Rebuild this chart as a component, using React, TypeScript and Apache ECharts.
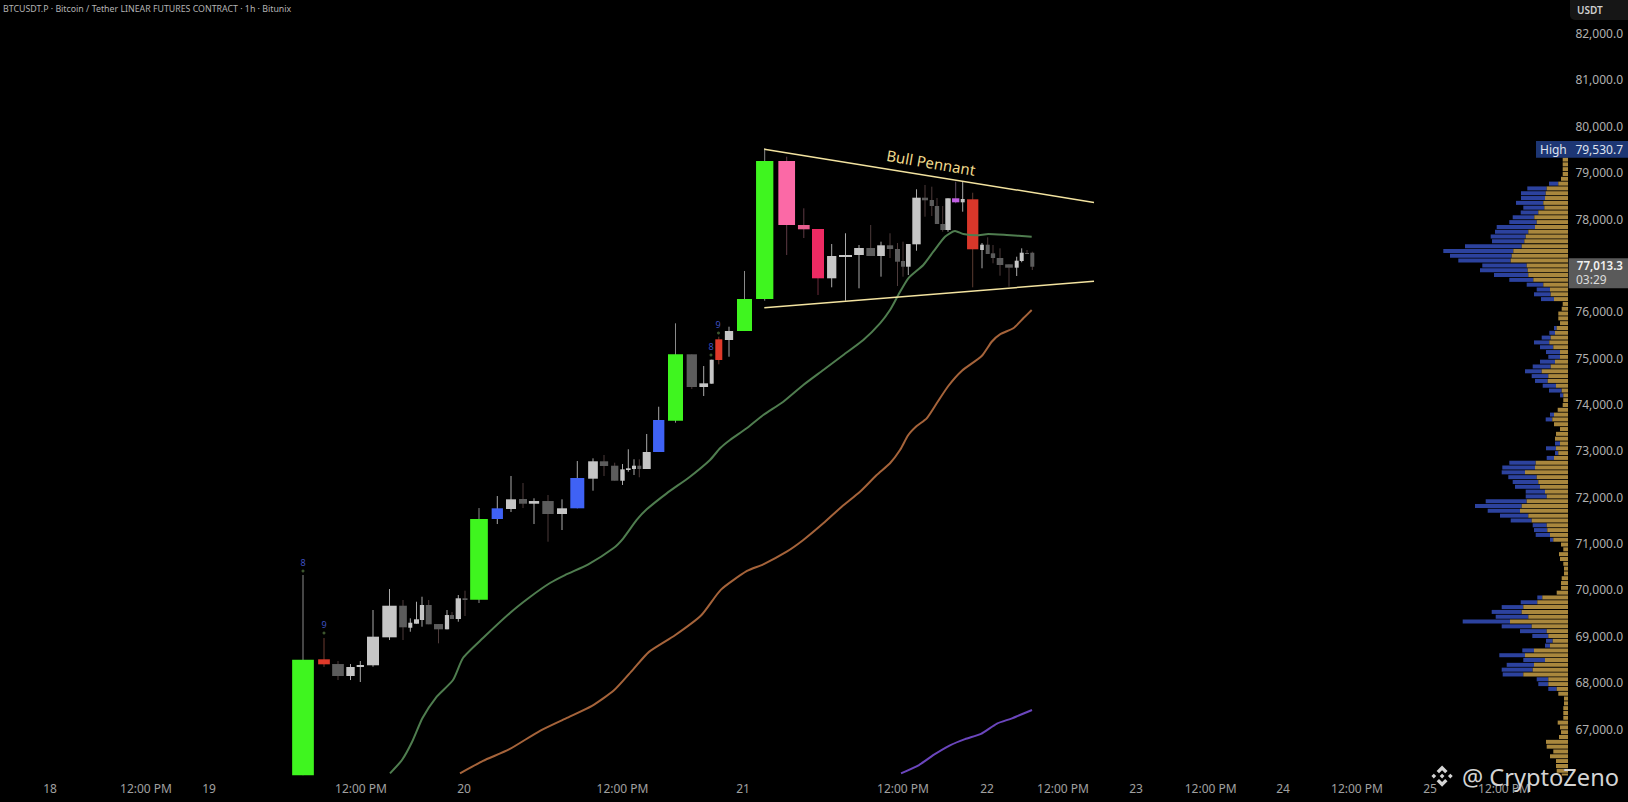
import React, { useEffect, useRef } from "react";
import * as echarts from "echarts";

// ---- Candles (one entry per 1h bar) ----
const candleSlots = [303,324,338,350.5,360.3,373,389.5,403,410.3,416.5,422,428.7,438.5,447,452,458.3,465,479,497.3,511,523,534,548,562,577.3,593,604,614.7,622.5,628.3,634,639.3,646.7,658.7,675.5,691.8,703.7,711.7,718.8,729,744.5,764.7,786.7,803.8,818,831.7,845.5,859,870.7,881,890,897.5,903,908.3,916.5,925,931.8,937,942.7,948,955.7,962.7,972.7,982,987.7,993,1000,1009,1016.7,1021.7,1027,1032.3];
const bodyTop = [68495,68504,68402,68338,68381,68992,69660,69660,69293,69367,69675,69675,69265,69459,69459,69820,69820,71530,71761,71955,71962,71918,71918,71761,72415,72775,72775,72680,72602,72624,72680,72680,72975,73666,75083,75083,74457,74966,75406,75585,76276,79252,79252,77872,77785,77203,77225,77376,77376,77434,77434,77354,77095,77462,78461,78461,78411,78282,77893,78448,78448,78433,78426,77447,77447,77261,77160,77024,77102,77274,77268,77274];
const bodyBottom = [66000,68396,68144,68144,68338,68375,68978,69194,69185,69272,69352,69259,69151,69151,69373,69373,69783,69789,71530,71746,71860,71860,71638,71638,71761,72400,72673,72356,72356,72587,72609,72609,72609,72975,73651,74377,74377,74449,74960,75391,75585,76276,77872,77779,76722,76722,77182,77225,77203,77203,77354,77080,76972,76972,77455,78405,78282,77893,77764,77764,78361,78361,77348,77332,77246,77160,77009,76951,76951,77095,77246,76972];
const wickHigh = [70322,68963,68467,68402,68467,69567,70020,69783,69388,69746,69854,69783,69265,69567,69524,69891,69984,71767,72026,72458,72307,71977,72048,71955,72781,72839,72911,72745,72717,73034,72818,72818,73364,73952,75751,75083,74830,74966,75462,75678,76880,79530,79345,78232,77785,77462,77693,77440,77872,77512,77693,77483,77512,77462,78642,78735,78698,78454,78282,78448,78806,78806,78568,77483,77606,77440,77369,77024,77188,77369,77332,77296];
const wickLow = [66000,68340,68057,68057,68014,68344,68920,68920,69099,69272,69207,69259,68849,69151,69373,69315,69438,69718,71422,71681,71767,71422,71041,71293,71761,72141,72458,72356,72264,72550,72479,72430,72609,72975,73607,74334,74183,74449,74867,75031,75585,76239,77225,77591,76362,76528,76239,76506,77203,76757,77160,76556,76757,76793,77317,78051,78066,77893,77727,77727,78340,78159,76528,76938,77246,77046,76778,76541,76772,77067,77246,76901];
const candleKinds = ["g","r","d","l","l","l","l","d","l","l","l","d","d","l","d","l","d","g","b","l","d","l","d","l","b","l","d","d","l","l","l","d","l","b","g","d","l","l","r","l","g","g","p","q","c","l","l","l","d","l","d","d","d","l","l","d","d","d","d","l","m","l","x","l","d","d","d","d","l","l","d","d"];
const candleBodyWidths = [21.7,11.7,11.7,8.4,7.3,12,14.4,7.7,4,5,4.3,6,9,4.3,4,5.3,5,17.7,11.3,10,8,10.3,11.4,10,14,9.7,8.3,7.3,4.4,4.7,4,4,8,11.3,15,10.3,8.7,4,7,8.3,15,17.3,16.7,11.7,12,9.3,13,9.7,8.7,7.7,6.3,5,4,4.7,8.4,6,4.3,4.3,4.7,5.4,7.3,4,11.3,3.7,4,4.3,6.6,7.7,4,4,4,4];

// ---- Moving averages: [slot, price] ----
const greenAvg = [[390,66044],[402,66332],[412,66720],[422.5,67238],[436,67680],[453,68057],[463,68532],[483,68963],[510,69503],[530,69848],[550,70150],[565,70322],[588.3,70552],[613.3,70898],[623.3,71114],[636.7,71509],[646.7,71739],[666.7,72084],[690,72443],[710,72803],[720,73055],[730,73234],[746.7,73487],[763.3,73773],[783.3,74060],[803.3,74421],[823.3,74744],[843.3,75068],[863.3,75391],[880,75751],[890,76038],[898.3,76362],[908.3,76722],[923.3,77009],[933.3,77296],[945,77619],[955,77742],[963.3,77678],[976.7,77650],[988.3,77678],[1006.7,77656],[1031.7,77619]];
const orangeAvg = [[460,66044],[483,66313],[509,66559],[540,66962],[566,67231],[592,67500],[614,67836],[633,68283],[649,68664],[675,69022],[701,69448],[721,70007],[747,70410],[763.3,70552],[786.7,70825],[803.3,71077],[823.3,71437],[841.7,71795],[860,72119],[876.7,72479],[890,72732],[900,73018],[908.3,73342],[916.7,73536],[926.7,73702],[936.7,74026],[948.3,74399],[961.7,74723],[981.7,75046],[991.7,75354],[1000,75514],[1013.3,75644],[1023.3,75859],[1031.7,76038]];
const purpleAvg = [[901,66044],[919,66224],[934,66447],[950,66649],[965,66783],[981,66895],[997,67119],[1012,67231],[1032,67410]];

// ---- Pennant trend lines ----
const pennantUpper = [[764.3,79505],[1094,78359]];
const pennantLower = [[764.3,76088],[1094,76657]];

// ---- Sequence-count markers: [slot, price, digit] ----
const countDigits = [[303,70587,"8"],[324,69265,"9"],[711,75246,"8"],[718,75730,"9"]];
const countDots = [[303,70408],[324,69071],[711,75067],[718.5,75542]];

// ---- Volume profile, top row first ----
const profileUp = [5.3,5.3,5.3,5.3,7,9.7,21.3,22.3,23,24.7,23.7,29.7,33.7,31.3,33,39.7,42.3,43.7,46.3,54.7,56.3,57.3,41.3,40.3,39.7,34.7,24.7,18,17.3,14,5.3,6.3,9.7,9.7,8,11.3,13,17.3,18.7,14.7,8,8,13,17.3,26.3,19.7,20.3,12,6.3,4.7,4.7,5.3,10.3,14,15.7,14,8,12,13,8,12,9.7,14,32.3,33,43,31.3,29.7,28,23,21.3,41.3,46.3,48,39.7,36.3,21.3,20.7,18,14.7,7,4.7,9,8,4.7,4,4,6.3,7,7,11.3,25.7,30.7,44.7,46.3,39.7,58,36.3,21.3,19.7,15.3,18,34,43,23,34,35.3,44.7,19.7,19.7,11.3,9.7,4,4,4.7,4.7,4.7,10.3,8,7,9,22,21.3,14.7,18,12,12,11.3,6.3];
const profileTotal = [5.3,5.3,5.3,5.3,7,19,40.7,47,47,52,44.7,47.3,55.3,58.7,71.3,73,77.3,76,103,124.7,118,109.7,85.7,88,74,58.7,41.3,31.3,34,27,5.3,6.3,9.7,9.7,8,14,18.7,26.3,34,28,22,19.7,28,35.3,43,36.3,33,25.3,19,8,4.7,5.3,10.3,18,22.3,14,8,12,13,13,22,13,21.3,58.7,65.7,66.3,59.7,55.3,53,42.3,42.3,82.3,93,80.3,68,57.3,35.3,34,32.3,18,7,4.7,9,8,4.7,4,4,6.3,7,7,11.3,30.7,47.3,66.3,76.3,72.3,105.3,66.3,48,35.7,22,23,45.7,68.7,44.7,61.3,66.3,65.3,31.3,29.7,19.7,9.7,4,4,4.7,4.7,4.7,10.3,8,7,9,22,21.3,14.7,18,12,12,11.3,6.3];
const profileTopPrice = 79275;
const profileBin = 103.8;

// ---- Axis ticks ----
const timeTickSlots = [50,146,209,361,464,622.5,743,903,987,1063,1136,1210.7,1283,1357,1430,1504];
const timeTickLabels = ["18","12:00 PM","19","12:00 PM","20","12:00 PM","21","12:00 PM","22","12:00 PM","23","12:00 PM","24","12:00 PM","25","12:00 PM"];
const priceLabelHiddenByTag = 77000;
const highLabel = "79,530.7";
const lastLabel = "77,013.3";
const countdownLabel = "03:29";
const titleText = "BTCUSDT.P · Bitcoin / Tether LINEAR FUTURES CONTRACT · 1h · Bitunix";

const bodyColor: Record<string, string> = { g: "#3ff51f", b: "#3f62f5", l: "#c6c6c6", d: "#5c5c5c", r: "#e03a2a", p: "#fb69a6", q: "#e85f90", c: "#ee2a63", m: "#c35fe6", x: "#d8372a" };
const wickColor: Record<string, string> = { g: "#8a8a8a", b: "#a8a8a8", l: "#aaaaaa", d: "#4d3b3b", r: "#6a3a30", p: "#5e3a44", q: "#5e3a44", c: "#6a2a3a", m: "#5c4a60", x: "#5a3a30" };

const FONT = '"Noto Sans", sans-serif';
const binanceMark = "M16 13.3L18.7 16L16 18.7L13.3 16ZM6.6 13.3L9.3 16L6.6 18.7L3.9 16ZM25.4 13.3L28.1 16L25.4 18.7L22.7 16ZM16 3.9L22.2 10.1L19.5 12.8L16 9.3L12.5 12.8L9.8 10.1ZM16 28.1L9.8 21.9L12.5 19.2L16 22.7L19.5 19.2L22.2 21.9Z";

export default function App() {
  const ref = useRef<HTMLDivElement>(null);
  useEffect(() => {
    document.body.style.margin = "0";
    document.body.style.background = "#000";
    echarts.graphic.registerShape("binanceMark", echarts.graphic.extendPath(binanceMark, {}));
    const chart = echarts.init(ref.current!, null, { renderer: "svg" });
    const yRange = { min: 66000, max: 82725 };
    const lineSeries = (data: number[][], color: string, width: number, smooth = 0) => ({
      type: "line", data, showSymbol: false, silent: true, z: 4, smooth,
      lineStyle: { color, width }, clip: true,
    });
    chart.setOption({
      animation: false,
      backgroundColor: "#000000",
      grid: [
        { left: 0, right: 0, top: 0, bottom: 26.6 },
        { left: 1368, width: 200, top: 0, bottom: 26.6 },
      ],
      xAxis: [
        {
          type: "value", min: 0, max: 1628, gridIndex: 0,
          splitLine: { show: false }, axisLine: { show: false }, axisTick: { show: false },
          axisLabel: {
            customValues: timeTickSlots, margin: 7, fontFamily: FONT, fontSize: 12, color: "#a0a0a0",
            hideOverlap: false,
            formatter: (v: number) => timeTickLabels[timeTickSlots.indexOf(v)] ?? "",
          },
        },
        { type: "value", min: 0, max: 200, inverse: true, gridIndex: 1, show: false },
      ],
      yAxis: [
        {
          type: "value", position: "right", gridIndex: 0, ...yRange, interval: 1000,
          splitLine: { show: false }, axisLine: { show: false }, axisTick: { show: false },
          axisLabel: {
            inside: true, margin: 5, showMinLabel: false, showMaxLabel: false,
            fontFamily: FONT, fontSize: 12, color: "#b0b0b0",
            formatter: (v: number) => v === priceLabelHiddenByTag ? "" : v.toLocaleString("en-US", { minimumFractionDigits: 1 }),
          },
        },
        { type: "value", gridIndex: 1, ...yRange, show: false },
      ],
      series: [
        {
          type: "custom", xAxisIndex: 1, yAxisIndex: 1, silent: true, clip: true, z: 2,
          data: profileUp.map((u, i) => [u, profileTotal[i], profileTopPrice - i * profileBin]),
          encode: { x: [0, 1], y: 2 },
          renderItem: (_p: any, api: any) => {
            const u = api.value(0), t = api.value(1), price = api.value(2);
            const [x0, yTop] = api.coord([0, price + profileBin / 2]);
            const [, yBot] = api.coord([0, price - profileBin / 2]);
            const [xu] = api.coord([u, price]);
            const [xt] = api.coord([t, price]);
            const h = yBot - yTop - 0.8;
            return {
              type: "group",
              children: [
                { type: "rect", shape: { x: xt, y: yTop, width: xu - xt, height: h }, style: { fill: "#2c429e" } },
                { type: "rect", shape: { x: xu, y: yTop, width: x0 - xu, height: h }, style: { fill: "#a9873d" } },
              ],
            };
          },
        },
        {
          type: "custom", silent: true, clip: true, z: 3,
          data: candleSlots.map((x, i) => [x, bodyTop[i], bodyBottom[i], wickHigh[i], wickLow[i]]),
          encode: { x: 0, y: [1, 2, 3, 4] },
          renderItem: (p: any, api: any) => {
            const k = candleKinds[p.dataIndex];
            const w = candleBodyWidths[p.dataIndex];
            const x = api.value(0);
            const [cx, yt] = api.coord([x, api.value(1)]);
            const [, yb] = api.coord([x, api.value(2)]);
            const [, yh] = api.coord([x, api.value(3)]);
            const [, yl] = api.coord([x, api.value(4)]);
            return {
              type: "group",
              children: [
                { type: "line", shape: { x1: cx, y1: yh, x2: cx, y2: yl }, style: { stroke: wickColor[k], lineWidth: 1 } },
                { type: "rect", shape: { x: cx - w / 2, y: yt, width: w, height: Math.max(yb - yt, 1) }, style: { fill: bodyColor[k] } },
              ],
            };
          },
        },
        lineSeries(greenAvg, "#4f7d4f", 2, 0.2),
        lineSeries(orangeAvg, "#a5633a", 2, 0.2),
        lineSeries(purpleAvg, "#6b46bd", 2, 0.2),
        lineSeries(pennantUpper, "#f3e3a0", 1.5),
        lineSeries(pennantLower, "#f3e3a0", 1.5),
        {
          type: "scatter", data: countDots, symbolSize: 3, silent: true, z: 5,
          itemStyle: { color: "#4c6b3a" },
        },
        {
          type: "custom", silent: true, z: 5,
          data: countDigits,
          encode: { x: 0, y: 1 },
          renderItem: (p: any, api: any) => {
            const [x, y] = api.coord([api.value(0), api.value(1)]);
            return {
              type: "text", x, y,
              style: { text: String(countDigits[p.dataIndex][2]), fill: "#3f50c0", font: `9px ${FONT}`, align: "center", verticalAlign: "middle" },
            };
          },
        },
      ],
      graphic: [
        { type: "text", x: 3, y: 9, z: 50, style: { text: titleText, fill: "#b4b4b4", font: `8.8px ${FONT}`, verticalAlign: "middle" } },
        { type: "text", x: 931, y: 162.5, rotation: -0.17, z: 50, style: { text: "Bull Pennant", fill: "#f0da8c", font: `15px ${FONT}`, align: "center", verticalAlign: "middle" } },
        { type: "rect", z: 60, shape: { x: 1570, y: -4, width: 62, height: 24, r: 5 }, style: { fill: "#161616" } },
        { type: "text", x: 1577, y: 10, z: 61, style: { text: "USDT", fill: "#cfcfcf", font: `600 10px ${FONT}`, verticalAlign: "middle" } },
        { type: "rect", z: 60, shape: { x: 1536, y: 141, width: 92, height: 16.7 }, style: { fill: "#1d3674" } },
        { type: "text", x: 1540, y: 149.5, z: 61, style: { text: "High", fill: "#dfe3ee", font: `12px ${FONT}`, verticalAlign: "middle" } },
        { type: "text", x: 1623, y: 149.5, z: 61, style: { text: highLabel, fill: "#dfe3ee", font: `12px ${FONT}`, align: "right", verticalAlign: "middle" } },
        { type: "rect", z: 60, shape: { x: 1568.7, y: 258.3, width: 59.3, height: 30 }, style: { fill: "#5a5a5a" } },
        { type: "text", x: 1623, y: 265, z: 61, style: { text: lastLabel, fill: "#f0f0f0", font: `600 11.6px ${FONT}`, align: "right", verticalAlign: "middle" } },
        { type: "text", x: 1576, y: 279, z: 61, style: { text: countdownLabel, fill: "#dcdcdc", font: `12px ${FONT}`, verticalAlign: "middle" } },
        { type: "binanceMark", x: 1428, y: 762, scaleX: 0.88, scaleY: 0.88, z: 70, style: { fill: "#d4d4d4" } },
        { type: "text", x: 1462, y: 776.5, z: 70, style: { text: "@ CryptoZeno", fill: "#d4d4d4", font: `23.6px ${FONT}`, verticalAlign: "middle" } },
      ],
    });
    return () => chart.dispose();
  }, []);
  return <div ref={ref} style={{ position: "fixed", left: 0, top: 0, width: 1628, height: 802 }} />;
}
